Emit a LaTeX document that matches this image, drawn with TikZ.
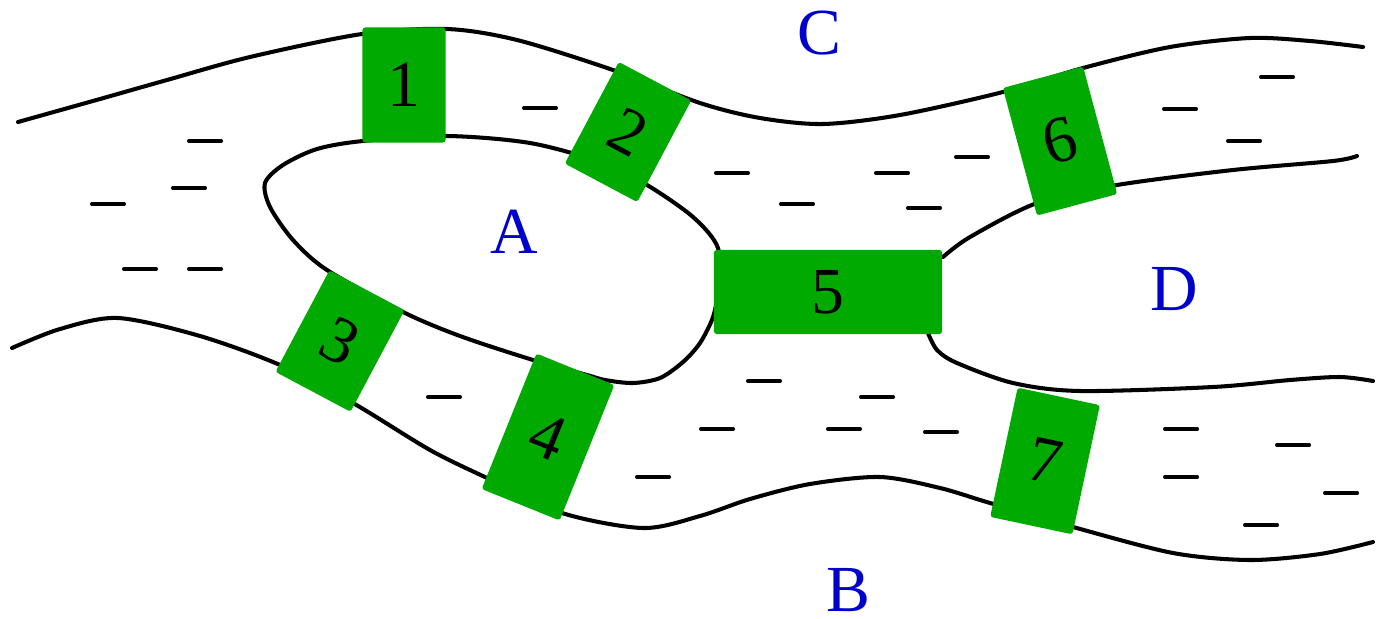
\documentclass[tikz,border=0pt]{standalone}
\usepackage{fontspec}
\setmainfont{Liberation Serif}
\definecolor{bridgegreen}{RGB}{0,170,0}
\definecolor{landblue}{RGB}{0,0,204}
\begin{document}
\begin{tikzpicture}[x=0.01cm,y=-0.01cm,
  shore/.style={line width=1.15pt, line cap=round, line join=round},
  wave/.style={line width=1.15pt, line cap=round},
  bridge/.style={fill=bridgegreen, inner sep=0pt, outer sep=0pt, rounded corners=0.8pt,
    font=\fontsize{18.7pt}{20pt}\selectfont, text=black},
  land/.style={text=landblue, inner sep=0pt, font=\fontsize{18.7pt}{20pt}\selectfont}]
\useasboundingbox (0,0) rectangle (1377,618);

% shores
\draw[shore] plot[smooth] coordinates {(18,122) (100,99) (167,80) (250,57) (362,34) (447,29) (517,40) (613,70) (700,103) (760,118) (823,124) (900,115) (1003,92) (1083,68) (1170,47) (1250,38) (1310,41) (1363,47)};
\draw[shore] plot[smooth cycle] coordinates {(363,141) (447,136) (530,143) (600,162) (647,185) (693,217) (718,248) (718,290) (713,317) (700,343) (683,362) (660,378) (633,383) (605,380) (587,375) (533,360) (460,336) (403,312) (327,270) (293,240) (270,207) (265,183) (283,165) (317,149)};
\draw[shore] plot[smooth] coordinates {(12,348) (60,329) (118,318) (200,336) (280,365) (353,403) (430,450) (487,478) (562,513) (643,528) (700,516) (750,499) (810,484) (880,477) (940,488) (990,503) (1073,527) (1173,553) (1250,560) (1320,554) (1373,542)};
\draw[shore] plot[smooth] coordinates {(943,257) (970,237) (1037,203) (1117,185) (1233,170) (1333,161) (1357,156)};
\draw[shore] plot[smooth] coordinates {(928,333) (937,350) (957,363) (1013,383) (1080,391) (1213,387) (1290,380) (1340,377) (1373,381)};

% water marks
\foreach \x/\y in {205/141,189/188,108/204,140/269,205/269,540/108,732/173,797/204,892/173,972/157,924/208,1277/77,1180/109,1244/141,444/397,764/381,877/397,717/429,844/429,941/432,653/477,1181/429,1293/445,1181/477,1341/493,1261/525}
  \draw[wave] (\x-16,\y) -- (\x+16,\y);

% bridges
\node[bridge, minimum width=0.83cm, minimum height=1.15cm] (b1) at (404,85) {1};
\node[bridge, minimum width=0.82cm, minimum height=1.15cm, rotate=-28] (b2) at (628,132) {2};
\node[bridge, minimum width=0.85cm, minimum height=1.15cm, rotate=-28] (b3) at (340,341) {3};
\node[bridge, minimum width=0.84cm, minimum height=1.46cm, rotate=-22] (b4) at (548,437) {4};
\node[bridge, minimum width=2.28cm, minimum height=0.84cm] (b5) at (828,292) {5};
\node[bridge, minimum width=0.83cm, minimum height=1.32cm, rotate=15] (b6) at (1060,141) {6};
\node[bridge, minimum width=0.84cm, minimum height=1.32cm, rotate=-12] (b7) at (1045,461) {7};

% land labels
\node[land] (A) at (514,232) {A};
\node[land] (B) at (848,590) {B};
\node[land] (C) at (819,33) {C};
\node[land] (D) at (1174,289) {D};
\end{tikzpicture}
\end{document}
